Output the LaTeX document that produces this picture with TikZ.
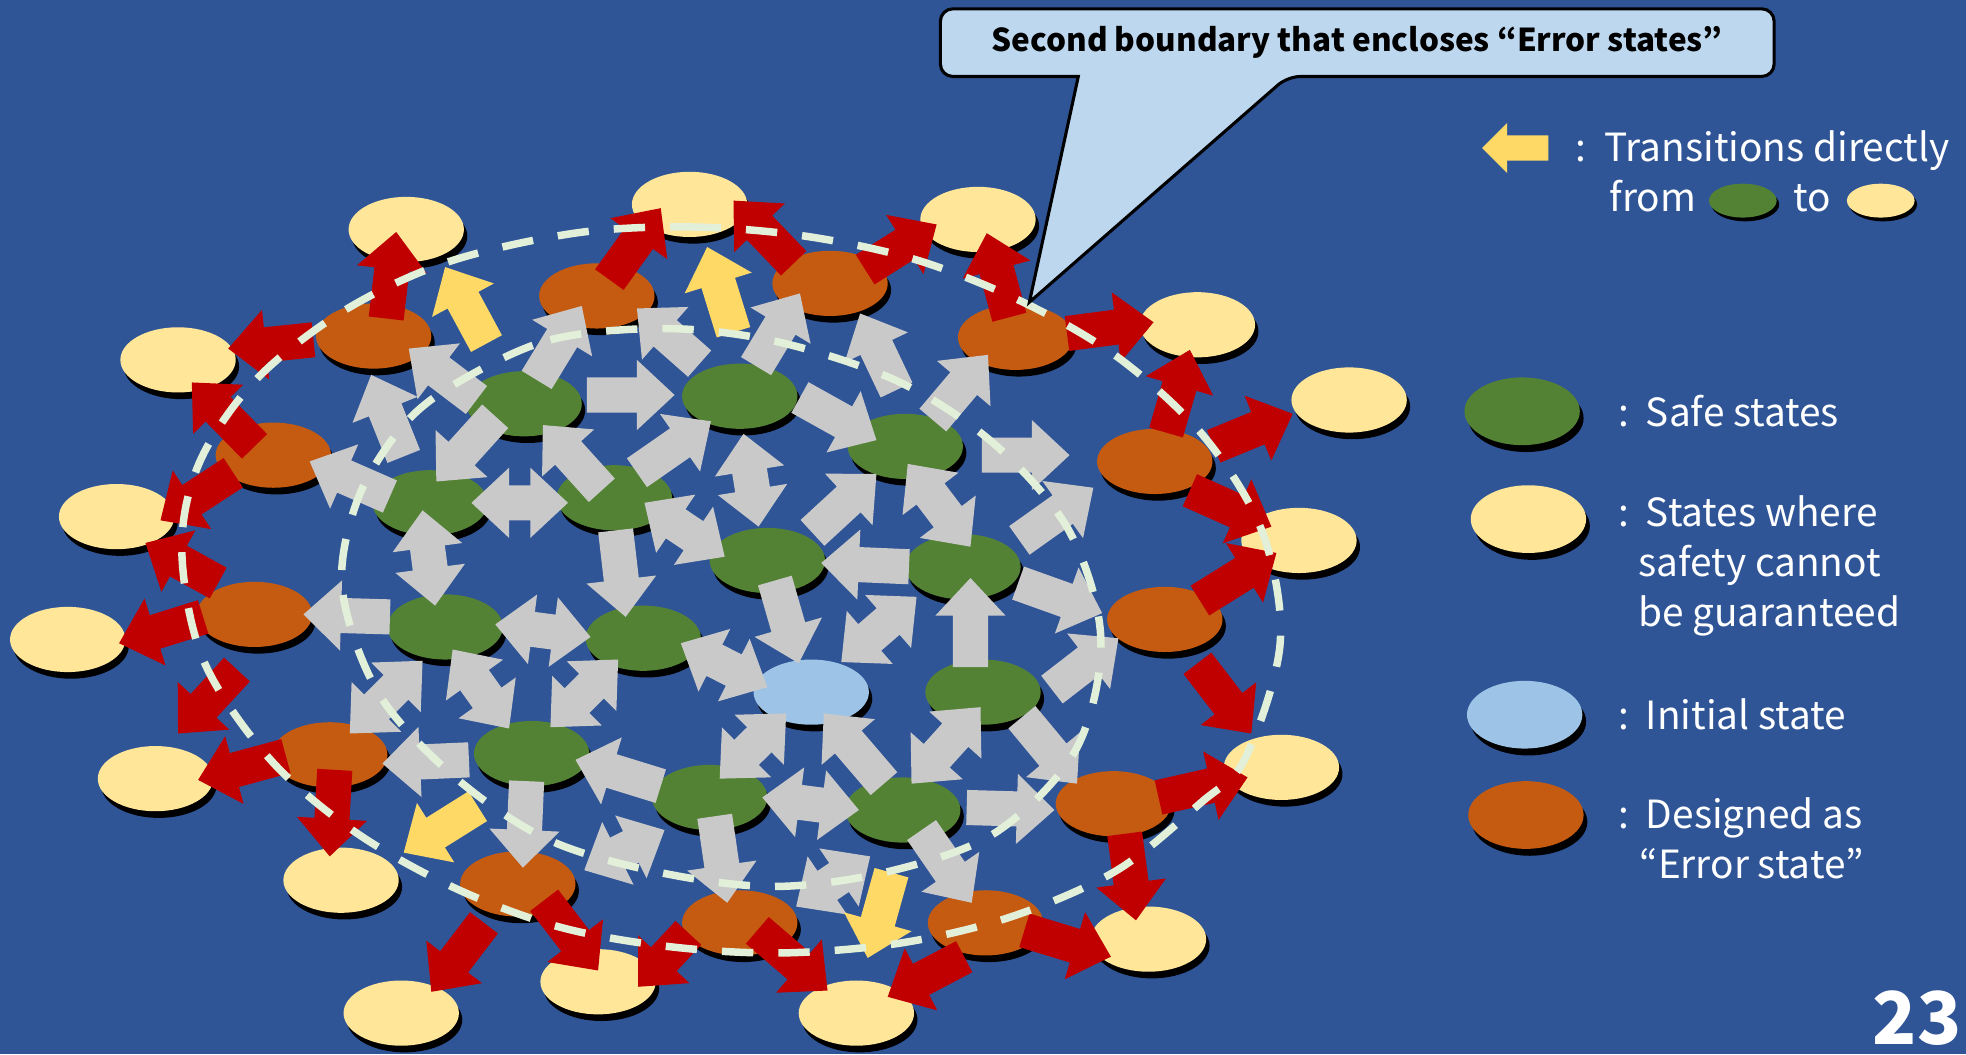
\documentclass[tikz,border=0pt]{standalone}
\usepackage{fontspec}
\setmainfont{Noto Sans CJK JP}
\usetikzlibrary{calc,shapes.geometric,shadows}

\definecolor{bgblue}{HTML}{2F5597}
\definecolor{safegreen}{HTML}{548235}
\definecolor{unsafeyellow}{HTML}{FFE699}
\definecolor{initblue}{HTML}{9DC3E6}
\definecolor{errorange}{HTML}{C55A11}
\definecolor{arrowred}{HTML}{C00000}
\definecolor{arrowgold}{HTML}{FFD966}
\definecolor{arrowgray}{HTML}{C9C9C9}
\definecolor{dashgreen}{HTML}{E2F0D9}
\definecolor{calloutblue}{HTML}{BDD7EE}

\tikzset{
  stateshape/.style={ellipse, minimum width=9.2mm, minimum height=5.2mm, inner sep=0pt,
    drop shadow={shadow xshift=0.27mm, shadow yshift=-0.53mm, fill=black, opacity=1}},
  safe/.style={stateshape, fill=safegreen},
  unsafe/.style={stateshape, fill=unsafeyellow},
  err/.style={stateshape, fill=errorange},
  initst/.style={stateshape, fill=initblue},
  keyshape/.style={ellipse, minimum width=9.2mm, minimum height=5.4mm, inner sep=0pt,
    drop shadow={shadow xshift=0.3mm, shadow yshift=-0.55mm, fill=black, opacity=1}},
  smallshape/.style={ellipse, minimum width=5.4mm, minimum height=2.7mm, inner sep=0pt,
    drop shadow={shadow xshift=0.2mm, shadow yshift=-0.3mm, fill=black, opacity=1}},
  boundary/.style={draw=dashgreen, line width=1.7pt, dash pattern=on 2.5mm off 2mm},
  legtext/.style={text=white, font=\fontsize{8.8}{11}\selectfont, anchor=base west, inner sep=0pt},
  grayfill/.style={fill=arrowgray},
  redfill/.style={fill=arrowred},
  goldfill/.style={fill=arrowgold},
}

% block arrow: #1 fill style, #2 tail point, #3 tip point
\newcommand\blockarrow[3]{%
  \coordinate (ba-n) at ($(#3)!3mm!(#2)$);
  \fill[#1] ($(#2)!1.4mm!90:(#3)$) -- ($(ba-n)!1.4mm!90:(#3)$) -- ($(ba-n)!2.8mm!90:(#3)$)
    -- (#3) -- ($(ba-n)!2.8mm!-90:(#3)$) -- ($(ba-n)!1.4mm!-90:(#3)$)
    -- ($(#2)!1.4mm!-90:(#3)$) -- cycle;
}
% two-headed block arrow between #2 and #3
\newcommand\twowayarrow[3]{%
  \coordinate (da-a) at ($(#2)!3mm!(#3)$);
  \coordinate (da-b) at ($(#3)!3mm!(#2)$);
  \fill[#1] (#2) -- ($(da-a)!2.8mm!90:(#3)$) -- ($(da-a)!1.4mm!90:(#3)$)
    -- ($(da-b)!1.4mm!90:(#3)$) -- ($(da-b)!2.8mm!90:(#3)$) -- (#3)
    -- ($(da-b)!2.8mm!-90:(#3)$) -- ($(da-b)!1.4mm!-90:(#3)$)
    -- ($(da-a)!1.4mm!-90:(#3)$) -- ($(da-a)!2.8mm!-90:(#3)$) -- cycle;
}

\begin{document}
\begin{tikzpicture}[x=0.1mm, y=-0.1mm]
\fill[bgblue] (0,0) rectangle (1568,841);
\useasboundingbox (0,0) rectangle (1568,841);

% ---- states where safety cannot be guaranteed (outer ring)
\foreach \p [count=\i] in {(324,183),(550,163),(780,175),(955,259),(1076,319),(1036,431),
  (1022,612),(916,749),(683,808),(477,783),(320,808),(272,702),(124,621),(54,510),(93,412),(142,287)}
  \node[unsafe] (u\i) at \p {};

% ---- error states
\foreach \p [count=\i] in {(298,268),(476,236),(662,226),(810,269),(921,368),(929,494),
  (888,641),(786,736),(590,736),(413,705),(263,602),(203,490),(218,363)}
  \node[err] (e\i) at \p {};

% ---- safe states
\foreach \p [count=\i] in {(418,322),(590,316),(722,356),(343,401),(490,397),(612,447),
  (768,452),(355,500),(513,509),(784,552),(424,601),(566,636),(720,646)}
  \node[safe] (s\i) at \p {};

% ---- initial state
\node[initst] (init) at (647,552) {};

% ---- transitions among safe states and towards error states
\blockarrow{grayfill}{380,319}{326,278}
\blockarrow{grayfill}{322,364}{296,299}
\blockarrow{grayfill}{428,303}{464,244}
\blockarrow{grayfill}{395,332}{348,384}
\blockarrow{grayfill}{480,391}{433,339}
\blockarrow{grayfill}{311,396}{247,368}
\blockarrow{grayfill}{311,492}{242,490}
\blockarrow{grayfill}{491,423}{499,492}
\blockarrow{grayfill}{374,606}{305,609}
\blockarrow{grayfill}{420,623}{417,692}
\blockarrow{grayfill}{527,627}{459,606}
\blockarrow{grayfill}{468,315}{538,315}
\blockarrow{grayfill}{508,377}{567,336}
\blockarrow{grayfill}{558,290}{508,246}
\blockarrow{grayfill}{603,292}{638,234}
\blockarrow{grayfill}{638,317}{699,351}
\blockarrow{grayfill}{648,425}{699,378}
\blockarrow{grayfill}{715,311}{686,250}
\blockarrow{grayfill}{744,335}{788,283}
\blockarrow{grayfill}{783,363}{853,363}
\blockarrow{grayfill}{813,431}{872,389}
\blockarrow{grayfill}{725,452}{655,449}
\blockarrow{grayfill}{618,463}{637,529}
\blockarrow{grayfill}{774,532}{774,461}
\blockarrow{grayfill}{812,465}{879,489}
\blockarrow{grayfill}{839,550}{892,509}
\blockarrow{grayfill}{705,625}{657,569}
\blockarrow{grayfill}{815,572}{859,625}
\blockarrow{grayfill}{771,644}{841,646}
\blockarrow{grayfill}{570,651}{580,720}
\blockarrow{grayfill}{735,662}{775,720}

\twowayarrow{grayfill}{376,401}{453,401}
\twowayarrow{grayfill}{337,407}{347,483}
\twowayarrow{grayfill}{395,498}{471,508}
\twowayarrow{grayfill}{514,401}{578,444}
\twowayarrow{grayfill}{361,518}{406,581}
\twowayarrow{grayfill}{439,580}{493,526}
\twowayarrow{grayfill}{279,585}{337,527}
\twowayarrow{grayfill}{466,694}{530,662}
\twowayarrow{grayfill}{593,346}{605,420}
\twowayarrow{grayfill}{724,370}{774,436}
\twowayarrow{grayfill}{543,513}{612,548}
\twowayarrow{grayfill}{671,528}{731,476}
\twowayarrow{grayfill}{574,621}{627,569}
\twowayarrow{grayfill}{727,625}{782,564}
\twowayarrow{grayfill}{608,636}{685,646}
\twowayarrow{grayfill}{635,723}{694,683}

% ---- transitions from error states to unsafe states
\blockarrow{redfill}{308,254}{316,185}
\blockarrow{redfill}{250,271}{182,278}
\blockarrow{redfill}{203,356}{153,305}
\blockarrow{redfill}{186,377}{128,415}
\blockarrow{redfill}{174,465}{116,433}
\blockarrow{redfill}{162,492}{95,513}
\blockarrow{redfill}{189,534}{142,585}
\blockarrow{redfill}{228,603}{158,622}
\blockarrow{redfill}{267,614}{263,683}
\blockarrow{redfill}{386,736}{344,791}
\blockarrow{redfill}{434,718}{477,774}
\blockarrow{redfill}{549,744}{509,787}
\blockarrow{redfill}{604,742}{660,790}
\blockarrow{redfill}{769,763}{708,795}
\blockarrow{redfill}{817,742}{886,763}
\blockarrow{redfill}{897,665}{906,734}
\blockarrow{redfill}{924,636}{995,620}
\blockarrow{redfill}{955,529}{998,585}
\blockarrow{redfill}{957,479}{1018,441}
\blockarrow{redfill}{949,391}{1014,420}
\blockarrow{redfill}{968,356}{1031,330}
\blockarrow{redfill}{930,345}{949,279}
\blockarrow{redfill}{851,266}{920,257}
\blockarrow{redfill}{805,253}{787,186}
\blockarrow{redfill}{690,215}{747,179}
\blockarrow{redfill}{633,210}{585,160}
\blockarrow{redfill}{486,223}{527,166}

% ---- direct transitions from safe to unsafe states
\blockarrow{goldfill}{388,274}{355,213}
\blockarrow{goldfill}{585,265}{564,197}
\blockarrow{goldfill}{381,643}{322,680}
\blockarrow{goldfill}{711,696}{692,764}

% ---- first boundary (around the safe states)
\draw[boundary] plot[smooth cycle, tension=0.55] coordinates {
  (365,305) (439,271) (532,262) (622,273) (718,305) (794,355) (853,424) (878,510)
  (858,598) (794,664) (709,695) (618,707) (527,696) (438,670) (363,620) (302,553)
  (273,470) (285,399) (321,340)};

% ---- second boundary (around the error states)
\draw[boundary] plot[smooth cycle, tension=0.55] coordinates {
  (458,186) (550,181) (640,188) (730,207) (816,241) (893,286) (961,349) (1007,425)
  (1021,513) (993,605) (958,640) (891,694) (807,731) (719,752) (624,760) (534,755)
  (445,739) (360,707) (281,662) (214,604) (162,526) (145,439) (159,369) (204,303)
  (274,248) (357,209)};

% ---- callout
\draw[fill=calloutblue, line width=0.7pt, rounded corners=1mm]
  (860,61) -- (750,61) -- (750,7) -- (1415,7) -- (1415,61) -- (1027,61)
  [sharp corners] -- (821,241) -- cycle;
\node[anchor=base, inner sep=0pt, font=\bfseries\fontsize{7.15}{9}\selectfont] (callouttext)
  at (1082,41) {Second boundary that encloses “Error states”};

% ---- legend
\fill[arrowgold] (1235,108) -- (1202,108) -- (1202,98) -- (1182,118) -- (1202,138)
  -- (1202,128) -- (1235,128) -- cycle;
\node[legtext] (k1c) at (1256,129) {:};
\node[legtext] (k1) at (1279,129) {Transitions directly};
\node[legtext] (k2) at (1283,169) {from};
\node[smallshape, fill=safegreen] (ksafe) at (1390,160) {};
\node[legtext] (k3) at (1430,169) {to};
\node[smallshape, fill=unsafeyellow] (kunsafe) at (1500,160) {};

\node[keyshape, fill=safegreen] (ls) at (1214,328) {};
\node[legtext] (lsc) at (1290,340) {:};
\node[legtext] (lst) at (1312,340) {Safe states};

\node[keyshape, fill=unsafeyellow] (lu) at (1219,414) {};
\node[legtext] (luc) at (1290,420) {:};
\node[legtext] (lut1) at (1312,420) {States where};
\node[legtext] (lut2) at (1306,460) {safety cannot};
\node[legtext] (lut3) at (1306,500) {be guaranteed};

\node[keyshape, fill=initblue] (li) at (1216,570) {};
\node[legtext] (lic) at (1290,582) {:};
\node[legtext] (lit) at (1312,582) {Initial state};

\node[keyshape, fill=errorange] (le) at (1217,650) {};
\node[legtext] (lec) at (1290,661) {:};
\node[legtext] (let1) at (1312,661) {Designed as};
\node[legtext] (let2) at (1307,701) {“Error state”};

% ---- page number
\node[anchor=base east, inner sep=0pt, text=white, font=\bfseries\fontsize{16.5}{20}\selectfont]
  (pagenum) at (1565,833) {23};
\end{tikzpicture}
\end{document}
